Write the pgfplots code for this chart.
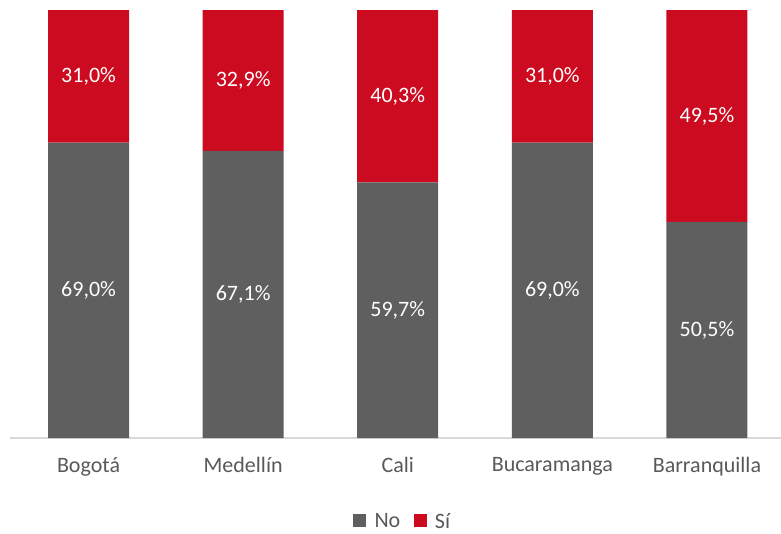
\documentclass[border=0pt]{standalone}
\usepackage{fontspec}
\setmainfont{Carlito}
\usepackage{pgfplots}
\usepackage{pgfplotstable}
\pgfplotsset{compat=1.18}
\definecolor{cgray}{HTML}{5F5F5F}
\definecolor{cred}{HTML}{CC0A20}
\definecolor{ctext}{HTML}{595959}
\definecolor{caxis}{HTML}{D9D9D9}
\pgfplotstableread{
x no si
0 69.0 31.0
1 67.1 32.9
2 59.7 40.3
3 69.0 31.0
4 50.5 49.5
}\data
\begin{document}
\begin{tikzpicture}
\useasboundingbox (0pt,0pt) rectangle (585.75pt,399.75pt);
\begin{axis}[
  at={(7.5pt,71.25pt)}, anchor=south west,
  scale only axis,
  width=578.25pt, height=321pt,
  ybar stacked, bar width=60.75pt,
  xmin=-0.508, xmax=4.479,
  ymin=0, ymax=100,
  axis x line*=bottom, axis y line=none,
  x axis line style={draw=caxis, line width=1pt, -},
  xtick=data,
  xticklabels={Bogotá,Medellín,Cali,Bucaramanga,Barranquilla},
  xtick style={draw=none},
  xticklabel style={font=\fontsize{16.5}{20}\selectfont, text=ctext, yshift=-11pt},
  /pgf/number format/assume math mode=true,
  /pgf/number format/.cd, use comma, fixed, fixed zerofill, precision=1, /pgfplots/.cd,
  legend style={at={(0.508,-0.193)}, anchor=center, draw=none, legend columns=2,
    inner sep=0pt, nodes={inner sep=0pt, text depth=0pt},
    font=\fontsize{16.5}{20}\selectfont, text=ctext,
    /tikz/every even column/.append style={column sep=10pt}},
  legend image code/.code={\fill[#1] (0pt,-4.9pt) rectangle (9.75pt,4.9pt); \path (16pt,0pt);},
  nodes near coords={\pgfmathprintnumber{\pgfplotspointmeta}\%},
  every node near coord/.append style={font=\fontsize{16.5}{20}\selectfont, text=white, anchor=center},
  point meta=explicit,
  clip=false,
]
\addplot[fill=cgray, draw=none] table[x=x, y=no, meta=no] {\data};
\addplot[fill=cred, draw=none] table[x=x, y=si, meta=si] {\data};
\legend{No, Sí}
\end{axis}
\end{tikzpicture}
\end{document}
